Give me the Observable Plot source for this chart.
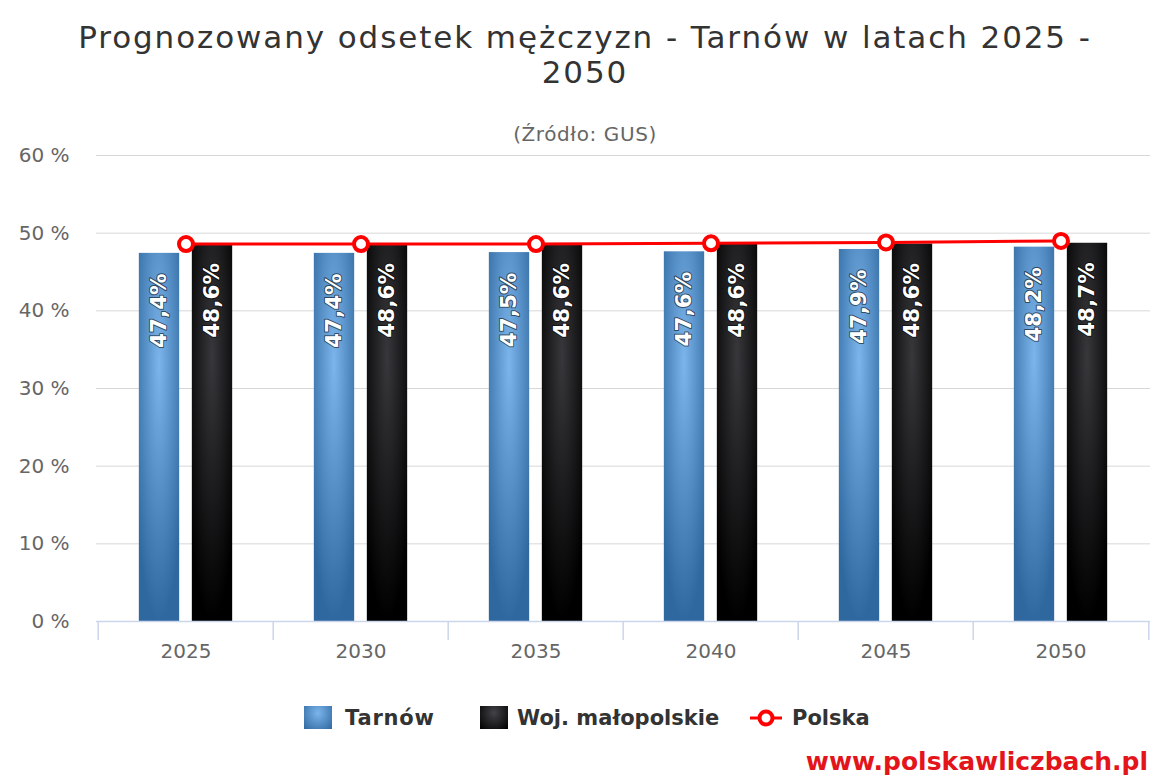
<!DOCTYPE html>
<html>
<head>
<meta charset="utf-8">
<script src="https://cdn.jsdelivr.net/npm/d3@7"></script>
<script src="https://cdn.jsdelivr.net/npm/@observablehq/plot@0.6"></script>
<style>
  body { margin: 0; background: #fff; font-family: "DejaVu Sans", sans-serif; }
  #wrap { position: relative; width: 1170px; height: 780px; overflow: hidden; background: #fff; }
  #title { position: absolute; top: 20px; left: 0; width: 1170px; text-align: center; font-size: 31px; letter-spacing: 1.9px; line-height: 35px; color: #333; }
  #subtitle { position: absolute; top: 122px; left: 0; width: 1170px; text-align: center; font-size: 20px; letter-spacing: 0.6px; line-height: 24px; color: #666; }
  #chart { position: absolute; top: 141px; left: 0; }
  .leg { position: absolute; top: 704px; height: 28px; line-height: 28px; font-size: 21px; font-weight: bold; color: #333; white-space: nowrap; }
  .sw { position: absolute; top: 706px; width: 28px; height: 23px; }
  #www { position: absolute; top: 747px; right: 22px; font-size: 25px; line-height: 30px; font-weight: bold; color: #e4141b; }
</style>
</head>
<body>
<div id="wrap">
  <div id="title">Prognozowany odsetek mężczyzn - Tarnów w latach 2025 -<br>2050</div>
  <div id="subtitle">(Źródło: GUS)</div>
  <div id="chart"></div>
  <div class="sw" style="left:304px;background:radial-gradient(ellipse at 50% 30%, #7cb5ec 0%, #2f689f 100%);"></div>
  <div class="leg" style="left:345px;letter-spacing:0.8px;">Tarnów</div>
  <div class="sw" style="left:480px;background:radial-gradient(ellipse at 50% 30%, #434348 0%, #000 100%);"></div>
  <div class="leg" style="left:517px;">Woj. małopolskie</div>
  <svg style="position:absolute;left:748px;top:706px;" width="36" height="24">
    <line x1="2" y1="12" x2="34" y2="12" stroke="#f00" stroke-width="3"></line>
    <circle cx="18" cy="12" r="6.5" fill="#fff" stroke="#f00" stroke-width="4"></circle>
  </svg>
  <div class="leg" style="left:792px;">Polska</div>
  <div id="www">www.polskawliczbach.pl</div>
</div>
<script>
const years = ["2025", "2030", "2035", "2040", "2045", "2050"];
const tarnow = [47.4, 47.4, 47.5, 47.6, 47.9, 48.2];
const malopolskie = [48.6, 48.6, 48.6, 48.6, 48.6, 48.7];
const polska = [48.6, 48.6, 48.6, 48.7, 48.8, 49.0];
const yTicks = [0, 10, 20, 30, 40, 50, 60];

const rows = years.map((year, i) => ({year, tarnow: tarnow[i], malopolskie: malopolskie[i], polska: polska[i]}));
const fmt = v => v.toFixed(1).replace(".", ",") + "%";

const W = 1170, H = 534, mL = 96, mR = 20, mT = 14, mB = 54;
const bw = (W - mL - mR) / years.length;
const barW = 41, gap = 12;
const off = (barW + gap) / 2;

const defs = () => {
  const d = d3.create("svg:defs");
  const g1 = d.append("radialGradient").attr("id", "gBlue").attr("cx", 0.5).attr("cy", 0.3).attr("r", 0.7);
  g1.append("stop").attr("offset", "0%").attr("stop-color", "#7cb5ec");
  g1.append("stop").attr("offset", "100%").attr("stop-color", "#2f689f");
  const g2 = d.append("radialGradient").attr("id", "gBlack").attr("cx", 0.5).attr("cy", 0.3).attr("r", 0.7);
  g2.append("stop").attr("offset", "0%").attr("stop-color", "#38383c");
  g2.append("stop").attr("offset", "100%").attr("stop-color", "#000000");
  return d.node();
};

const chart = Plot.plot({
  width: W, height: H,
  marginLeft: mL, marginRight: mR, marginTop: mT, marginBottom: mB,
  style: {fontFamily: "DejaVu Sans", fontSize: "20px", color: "#666", background: "transparent", overflow: "visible"},
  x: {type: "band", domain: years, padding: 0, label: null},
  y: {domain: [0, 60], label: null},
  marks: [
    defs,
    Plot.gridY(yTicks, {stroke: "#d8d8d8", strokeOpacity: 1, strokeWidth: 1}),
    Plot.axisY(yTicks, {tickSize: 0, tickPadding: 27, tickFormat: d => d + " %", fontSize: 20, fill: "#666", label: null}),
    Plot.barY(rows, {x: "year", y: "tarnow", fill: "url(#gBlue)",
      insetLeft: bw / 2 - off - barW / 2, insetRight: bw / 2 + off - barW / 2}),
    Plot.barY(rows, {x: "year", y: "malopolskie", fill: "url(#gBlack)",
      insetLeft: bw / 2 + off - barW / 2, insetRight: bw / 2 - off - barW / 2}),
    Plot.text(rows, {x: "year", y: "tarnow", text: d => fmt(d.tarnow), rotate: -90, textAnchor: "end",
      dx: -off, dy: 20, fill: "#fff", fontWeight: "bold", fontSize: 21.5, stroke: "#000", strokeWidth: 2, strokeOpacity: 0.55}),
    Plot.text(rows, {x: "year", y: "malopolskie", text: d => fmt(d.malopolskie), rotate: -90, textAnchor: "end",
      dx: off, dy: 19, fill: "#fff", fontWeight: "bold", fontSize: 21.5, stroke: "#000", strokeWidth: 2, strokeOpacity: 0.55}),
    Plot.ruleY([0], {stroke: "#ccd6eb", strokeWidth: 1.5}),
    Plot.ruleX(years, {x: d => d, y1: 0, y2: 0, dx: -bw / 2, insetBottom: -19, stroke: "#ccd6eb", strokeWidth: 1.5}),
    Plot.ruleX([years[years.length - 1]], {x: d => d, y1: 0, y2: 0, dx: bw / 2, insetBottom: -19, stroke: "#ccd6eb", strokeWidth: 1.5}),
    Plot.axisX({tickSize: 0, tickPadding: 22, fontSize: 20, fill: "#666", label: null}),
    Plot.line(rows, {x: "year", y: "polska", stroke: "#f00", strokeWidth: 3}),
    Plot.dot(rows, {x: "year", y: "polska", r: 7, fill: "#fff", stroke: "#f00", strokeWidth: 4})
  ]
});
document.getElementById("chart").appendChild(chart);
</script>
</body>
</html>
